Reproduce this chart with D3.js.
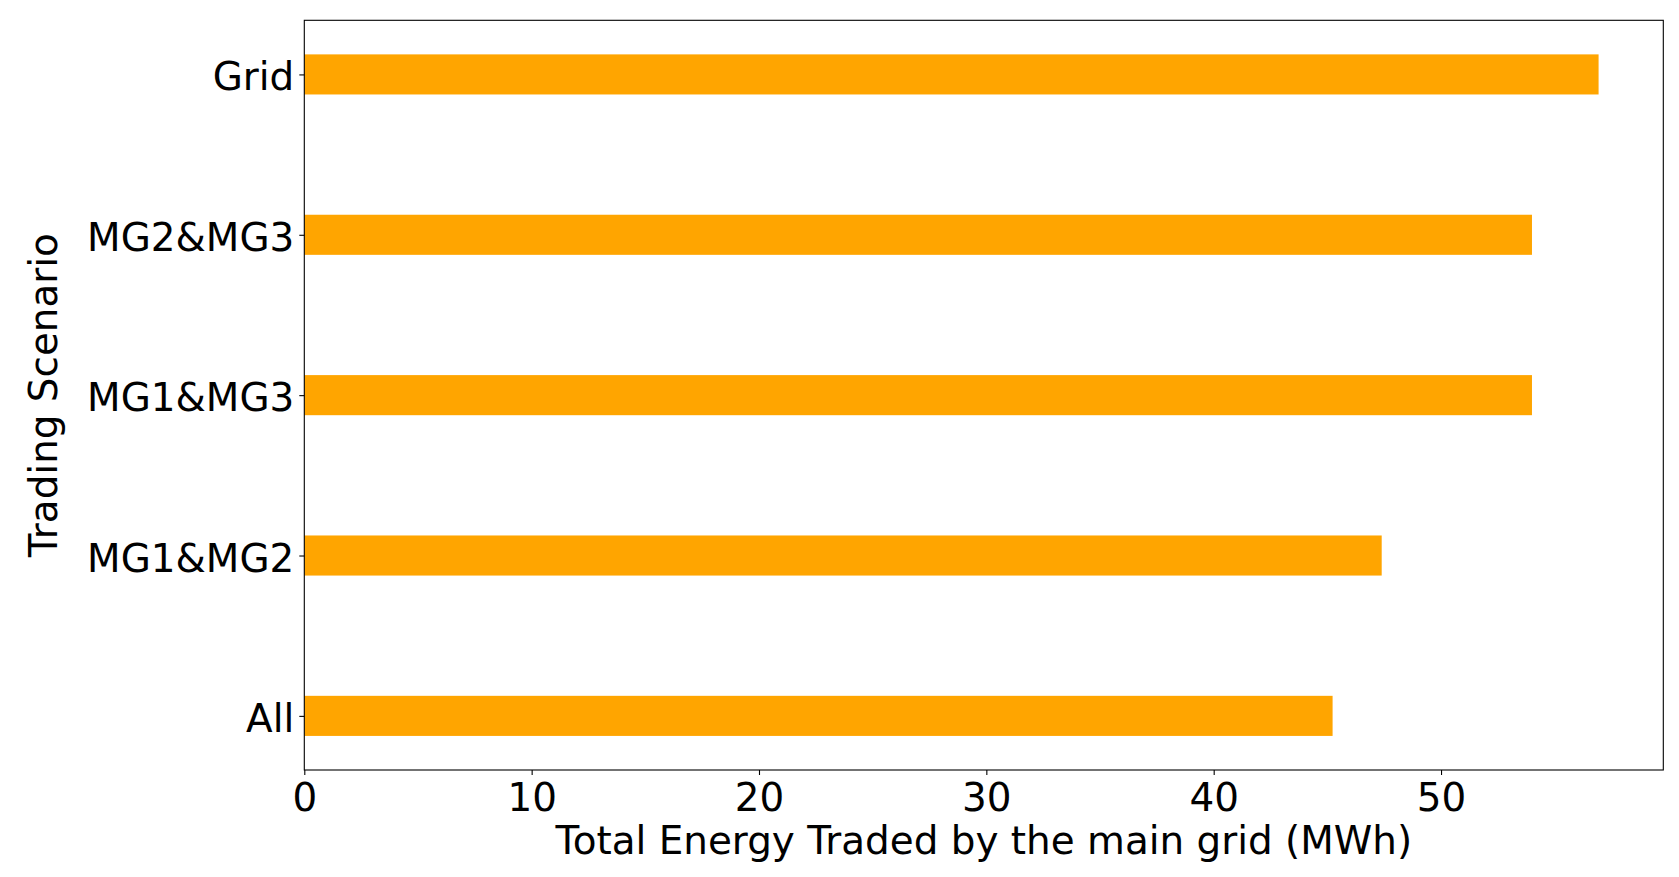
<!DOCTYPE html>
<html>
<head>
<meta charset="utf-8">
<script src="https://cdn.jsdelivr.net/npm/d3@7"></script>
<style>
  html, body { margin: 0; padding: 0; background: #fff; }
  svg { display: block; }
  text { font-family: "DejaVu Sans", sans-serif; fill: #000; }
</style>
</head>
<body>
<div id="chart"></div>
<script>
const categories = ["All", "MG1&MG2", "MG1&MG3", "MG2&MG3", "Grid"];
const values = [45.23, 47.39, 54.0, 54.0, 56.93];
const xTicks = [0, 10, 20, 30, 40, 50];
const xLabel = "Total Energy Traded by the main grid (MWh)";
const yLabel = "Trading Scenario";

(function () {
const W = 1679, H = 877;
const pL = 304.3, pR = 1663.3, pT = 20.3, pB = 770;
const fontSize = 38.9;

const svg = d3.select("#chart").append("svg").attr("width", W).attr("height", H);

const xMax = d3.max(values) * 1.05;
const x = d3.scaleLinear().domain([0, xMax]).range([pL, pR]);

const barW = 0.25;
const n = categories.length;
const yLo = -barW / 2, yHi = (n - 1) + barW / 2;
const m = (yHi - yLo) * 0.05;
const y = d3.scaleLinear().domain([yLo - m, yHi + m]).range([pB, pT]);

// bars
svg.append("g").selectAll("rect").data(values).join("rect")
  .attr("x", x(0))
  .attr("y", (d, i) => y(i + barW / 2))
  .attr("width", d => x(d) - x(0))
  .attr("height", (d, i) => y(i - barW / 2) - y(i + barW / 2))
  .attr("fill", "#FFA500");

// x axis
const xAxis = d3.axisBottom(x).tickValues(xTicks).tickFormat(d3.format("d")).tickSize(5).tickPadding(8);
const gx = svg.append("g").attr("transform", `translate(0,${pB})`).call(xAxis);
gx.select(".domain").remove();
gx.selectAll("line").attr("stroke", "#000").attr("stroke-width", 1.1);
gx.selectAll("text").attr("font-size", fontSize).attr("font-family", "DejaVu Sans, sans-serif").attr("fill", "#000");

// y axis
const yAxis = d3.axisLeft(y).tickValues(d3.range(n)).tickFormat(i => categories[i]).tickSize(5).tickPadding(5);
const gy = svg.append("g").attr("transform", `translate(${pL},0)`).call(yAxis);
gy.select(".domain").remove();
gy.selectAll("line").attr("stroke", "#000").attr("stroke-width", 1.1);
gy.selectAll("text").attr("font-size", fontSize).attr("font-family", "DejaVu Sans, sans-serif").attr("fill", "#000").attr("dy", "0.4em");

// frame
svg.append("rect")
  .attr("x", pL).attr("y", pT)
  .attr("width", pR - pL).attr("height", pB - pT)
  .attr("fill", "none").attr("stroke", "#000").attr("stroke-width", 1.1);

// labels
svg.append("text")
  .attr("x", (pL + pR) / 2).attr("y", 853.5)
  .attr("text-anchor", "middle").attr("font-size", fontSize)
  .text(xLabel);

svg.append("text")
  .attr("transform", `translate(57,${(pT + pB) / 2}) rotate(-90)`)
  .attr("text-anchor", "middle").attr("font-size", fontSize)
  .text(yLabel);
})();
</script>
</body>
</html>
